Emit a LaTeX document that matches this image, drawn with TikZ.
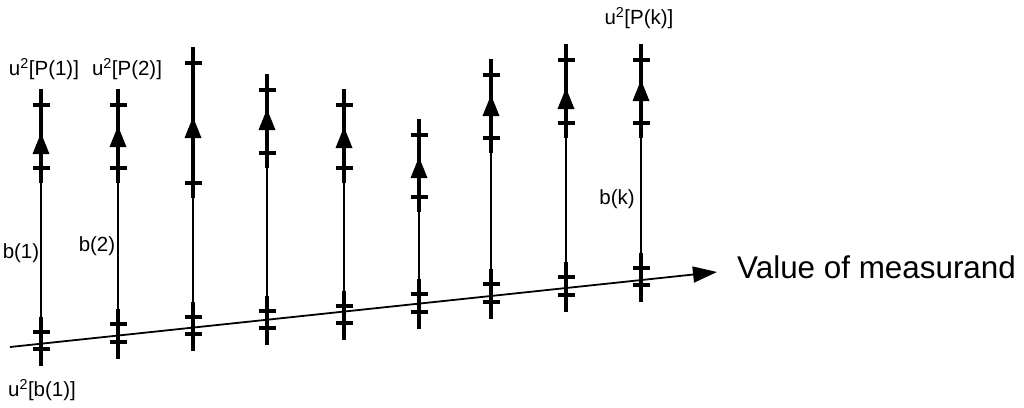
\documentclass[tikz,border=0pt]{standalone}
\usepackage{fontspec}
\setmainfont{Liberation Sans}
\usetikzlibrary{arrows.meta}
\begin{document}
\begin{tikzpicture}[x=1pt,y=-1pt,
  thinline/.style={line width=1.8pt},
  thickline/.style={line width=3.8pt},
  tickmark/.style={line width=3.4pt},
  headtri/.style={fill=black},
  axisline/.style={line width=1.8pt,-{Triangle[length=24pt,width=16pt]}},
  lbl/.style={font=\fontsize{20.5}{24}\selectfont, inner sep=0pt},
  biglbl/.style={font=\fontsize{31.4}{36}\selectfont, inner sep=0pt}]
\useasboundingbox[fill=white] (0,0) rectangle (1024,407);
% axis
\coordinate (axs) at (10,347);
\coordinate (axe) at (717,272);
\draw[axisline] (axs) -- (axe);
% columns: index / x / upper tick / arrow tip / lower upper tick / tick above axis / tick below axis
\foreach \i/\x/\ta/\tip/\tb/\tc/\td in {
  1/41/105/133/168/332/349,
  2/118/105/126/168/324/342,
  3/193/63/117/183/317/334,
  4/267/90/109/153/311/328,
  5/344/105/127/168/306/323,
  6/419/135/157/197/294/312,
  7/491/75/95/138/284/302,
  8/566/60/88/123/277/295,
  9/641/60/80/123/268/285} {
  \coordinate (top\i) at (\x,{\ta-16});
  \coordinate (upend\i) at (\x,{\tb+15});
  \coordinate (lostart\i) at (\x,{\tc-15});
  \coordinate (bot\i) at (\x,{\td+17});
  \coordinate (tip\i) at (\x,\tip);
  \draw[thinline] (top\i) -- (bot\i);
  \draw[thickline] (top\i) -- (upend\i);
  \draw[thickline] (lostart\i) -- (bot\i);
  \draw[tickmark] ({\x-8.5},\ta) -- ({\x+8.5},\ta);
  \draw[tickmark] ({\x-8.5},\tb) -- ({\x+8.5},\tb);
  \draw[tickmark] ({\x-8.5},\tc) -- ({\x+8.5},\tc);
  \draw[tickmark] ({\x-8.5},\td) -- ({\x+8.5},\td);
  \fill[headtri] (tip\i) -- ++(-8.5,21) -- ++(17,0) -- cycle;
}
% labels
\node[lbl] (lp1) at (44,69) {u\textsuperscript{2}[P(1)]};
\node[lbl] (lp2) at (127,69) {u\textsuperscript{2}[P(2)]};
\node[lbl] (lpk) at (639,18) {u\textsuperscript{2}[P(k)]};
\node[lbl] (lb1) at (21,253) {b(1)};
\node[lbl] (lb2) at (97,246) {b(2)};
\node[lbl] (lbk) at (617,199) {b(k)};
\node[lbl] (lub1) at (42,390) {u\textsuperscript{2}[b(1)]};
\node[biglbl,anchor=west] (lax) at (737,267) {Value of measurand};
\end{tikzpicture}
\end{document}
